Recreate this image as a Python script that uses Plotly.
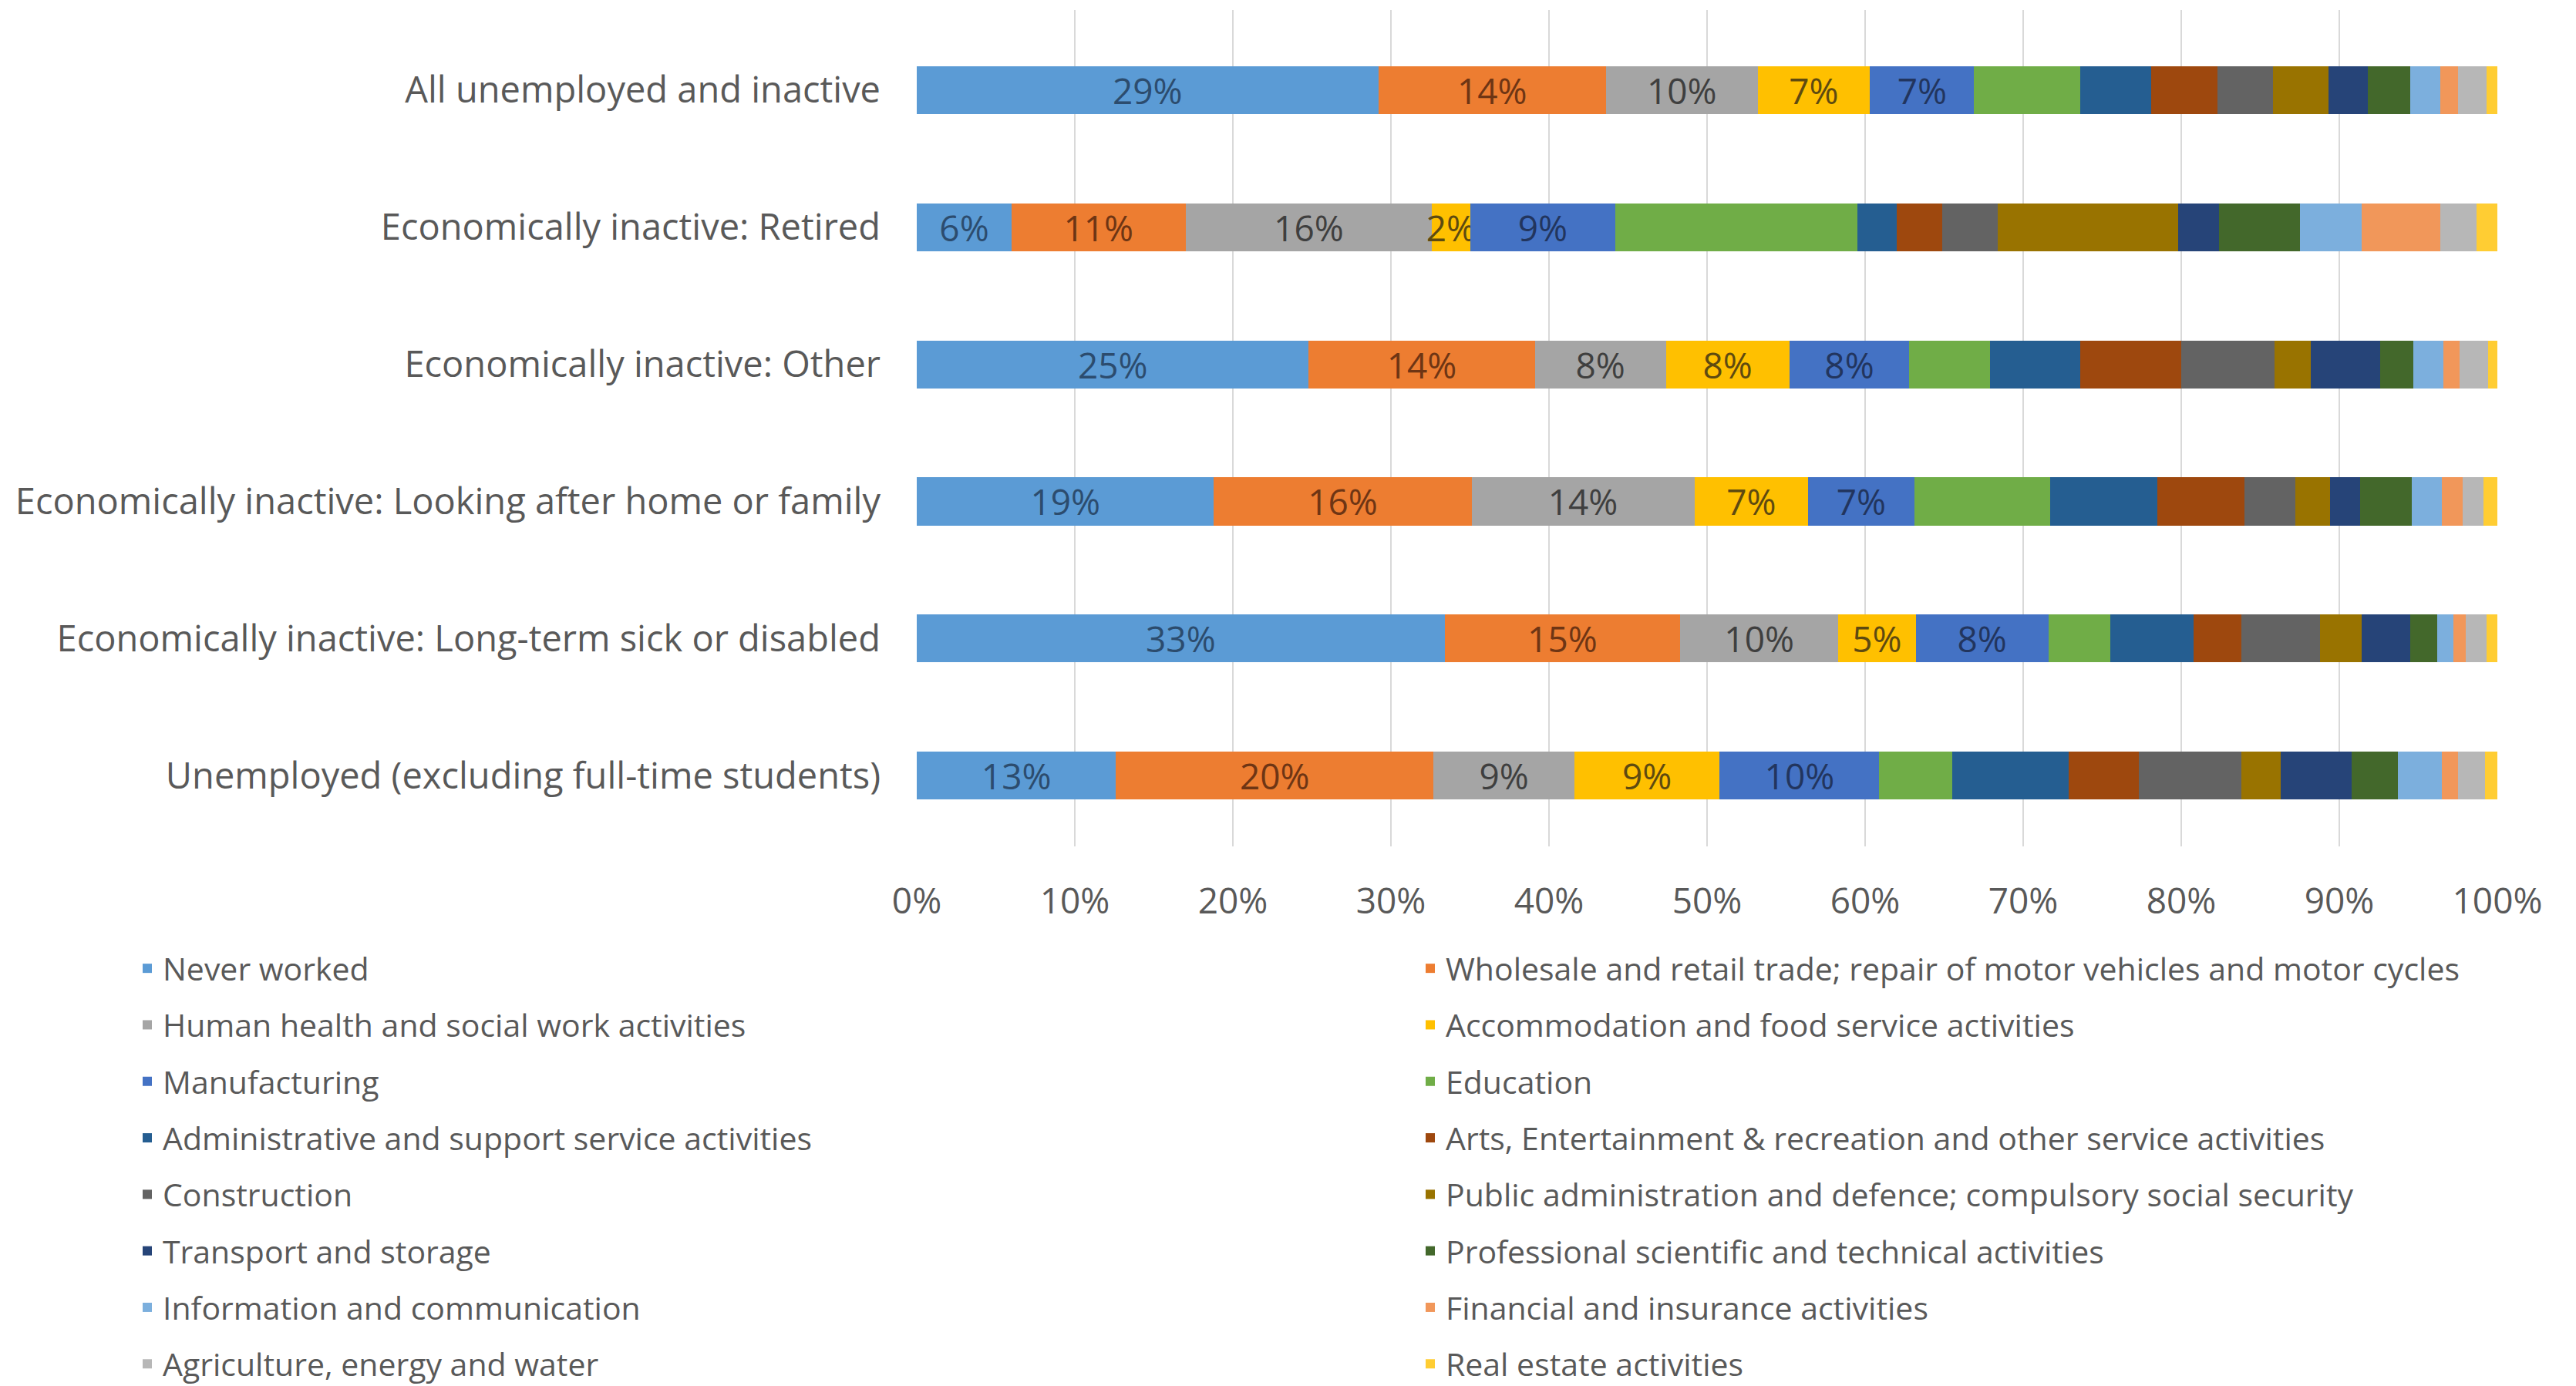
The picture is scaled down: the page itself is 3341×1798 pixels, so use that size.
import plotly.graph_objects as go

# Categories, listed bottom to top as they sit on the y axis
categories = [
    "Unemployed (excluding full-time students)",
    "Economically inactive: Long-term sick or disabled",
    "Economically inactive: Looking after home or family",
    "Economically inactive: Other",
    "Economically inactive: Retired",
    "All unemployed and inactive",
]

# Industry of last job (share of each group, %), same order as categories
never_worked = [12.6, 33.4, 18.8, 24.8, 6.0, 29.2]
wholesale = [20.1, 14.9, 16.3, 14.3, 11.0, 14.4]
health = [8.9, 10.0, 14.1, 8.3, 15.6, 9.6]
accommodation = [9.2, 4.9, 7.2, 7.8, 2.4, 7.1]
manufacturing = [10.1, 8.4, 6.7, 7.6, 9.2, 6.6]
education = [4.6, 3.9, 8.6, 5.1, 15.3, 6.7]
admin = [7.4, 5.3, 6.8, 5.7, 2.5, 4.5]
arts = [4.4, 3.0, 5.5, 6.4, 2.9, 4.2]
construction = [6.5, 5.0, 3.2, 5.9, 3.5, 3.5]
public_admin = [2.5, 2.6, 2.2, 2.3, 11.4, 3.5]
transport = [4.5, 3.1, 1.9, 4.4, 2.6, 2.5]
professional = [2.9, 1.7, 3.3, 2.1, 5.1, 2.7]
information = [2.8, 1.0, 1.9, 1.9, 3.9, 1.9]
financial = [1.0, 0.8, 1.3, 1.0, 5.0, 1.1]
agriculture = [1.7, 1.3, 1.3, 1.8, 2.3, 1.8]
real_estate = [0.8, 0.7, 0.9, 0.6, 1.3, 0.7]

x_ticks = [0, 10, 20, 30, 40, 50, 60, 70, 80, 90, 100]

series = [
    ("Never worked", never_worked, "#5B9BD5", "#2C4C6E", True),
    ("Wholesale and retail trade; repair of motor vehicles and motor cycles", wholesale, "#ED7D31", "#6E3514", True),
    ("Human health and social work activities", health, "#A5A5A5", "#3F3F3F", True),
    ("Accommodation and food service activities", accommodation, "#FFC000", "#5E4A10", True),
    ("Manufacturing", manufacturing, "#4472C4", "#22355E", True),
    ("Education", education, "#70AD47", None, False),
    ("Administrative and support service activities", admin, "#255E91", None, False),
    ("Arts, Entertainment & recreation and other service activities", arts, "#9E480E", None, False),
    ("Construction", construction, "#636363", None, False),
    ("Public administration and defence; compulsory social security", public_admin, "#997300", None, False),
    ("Transport and storage", transport, "#264478", None, False),
    ("Professional scientific and technical activities", professional, "#43682B", None, False),
    ("Information and communication", information, "#7CAFDD", None, False),
    ("Financial and insurance activities", financial, "#F1975A", None, False),
    ("Agriculture, energy and water", agriculture, "#B7B7B7", None, False),
    ("Real estate activities", real_estate, "#FFCD33", None, False),
]

FONT = "Open Sans"
fig = go.Figure()
for i, (name, vals, color, label_color, labelled) in enumerate(series):
    kw = {}
    if labelled:
        kw = dict(
            texttemplate="%{x:.0f}%",
            textposition="inside",
            insidetextanchor="middle",
            textangle=0,
            constraintext="none",
            insidetextfont=dict(family=FONT, size=46, color=label_color),
        )
    fig.add_trace(go.Bar(
        name=name,
        y=categories,
        x=vals,
        orientation="h",
        marker=dict(color=color, line=dict(width=0)),
        legend="legend" if i % 2 == 0 else "legend2",
        legendgroup=name,
        hoverinfo="skip",
        **kw,
    ))

legend_common = dict(
    orientation="v",
    xref="container", yref="container",
    yanchor="top", xanchor="left",
    y=1 - 1223 / 1798,
    font=dict(family=FONT, size=41, color="#595959"),
    tracegroupgap=17,
    bgcolor="rgba(0,0,0,0)",
    itemclick=False,
)

fig.update_layout(
    width=3341, height=1798,
    barmode="stack",
    bargap=0.65,
    paper_bgcolor="white",
    plot_bgcolor="white",
    margin=dict(l=1189, r=102, t=13, b=700, pad=0, autoexpand=False),
    font=dict(family=FONT, color="#595959"),
    showlegend=True,
    legend=dict(x=171 / 3341, **legend_common),
    legend2=dict(x=1835 / 3341, **legend_common),
    xaxis=dict(
        range=[0, 100],
        tickvals=x_ticks,
        ticktext=[f"{t}%" for t in x_ticks],
        tickangle=0,
        showgrid=True,
        gridcolor="#D9D9D9",
        gridwidth=2,
        zeroline=False,
        showline=False,
        ticks="",
        tickfont=dict(family=FONT, size=46, color="#595959"),
        ticklabelstandoff=40,
        automargin=False,
        fixedrange=True,
    ),
    yaxis=dict(
        type="category",
        categoryorder="array",
        categoryarray=categories,
        range=[-0.517, 5.585],
        showgrid=False,
        zeroline=False,
        showline=False,
        ticks="",
        tickfont=dict(family=FONT, size=47, color="#595959"),
        ticklabelstandoff=46,
        automargin=False,
        fixedrange=True,
    ),
    hovermode=False,
)

fig.write_html("out.html", config={"displayModeBar": False, "staticPlot": True})
